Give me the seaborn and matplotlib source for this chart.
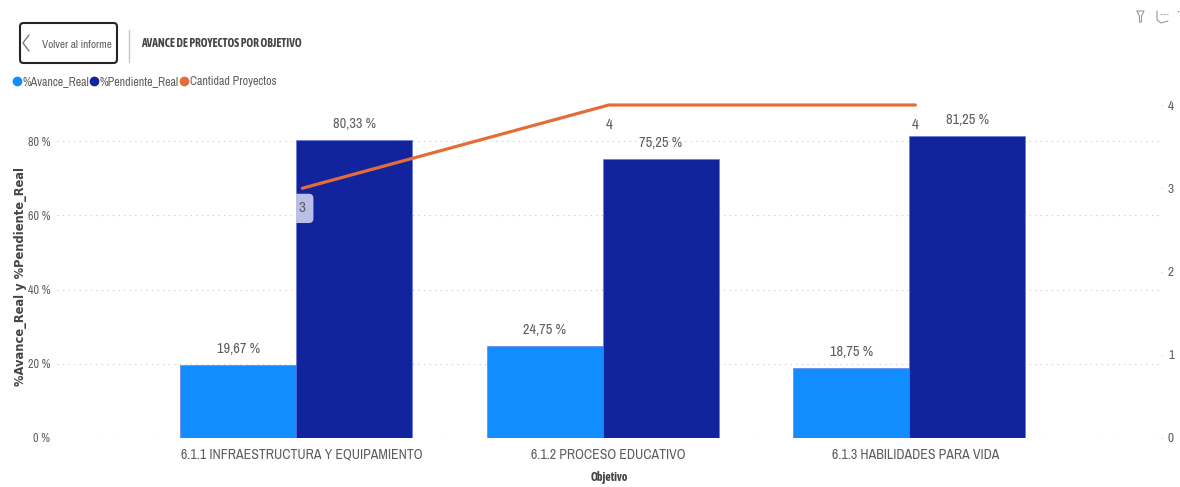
# ================================
# AVANCE DE PROYECTOS POR OBJETIVO
# ================================

import matplotlib
matplotlib.use("Agg")
import matplotlib.pyplot as plt
import numpy as np
import pandas as pd
import seaborn as sns
from matplotlib.lines import Line2D
from matplotlib.patches import FancyBboxPatch
from matplotlib.transforms import ScaledTranslation

# --------------------------------
# Data
# --------------------------------
objetivos = [
    "6.1.1 INFRAESTRUCTURA Y EQUIPAMIENTO",
    "6.1.2 PROCESO EDUCATIVO",
    "6.1.3 HABILIDADES PARA VIDA",
]
avance_real = [19.67, 24.75, 18.75]
pendiente_real = [80.33, 75.25, 81.25]
cantidad_proyectos = [3, 4, 4]
pct_ticks = [0, 20, 40, 60, 80]
count_ticks = [0, 1, 2, 3, 4]

# --------------------------------
# Settings
# --------------------------------
W, H = 1180, 487
BLUE = "#118DFF"
NAVY = "#12239E"
ORANGE = "#E66C37"
GRAY = "#605E5C"
NARROW = ["Archivo Narrow", "Roboto", "DejaVu Sans"]
NARROW_BOLD = ["Asap Condensed", "Roboto", "DejaVu Sans"]

sns.set_style("white")
plt.rcParams["font.family"] = NARROW

df = pd.DataFrame({
    "Objetivo": objetivos * 2,
    "serie": ["%Avance_Real"] * 3 + ["%Pendiente_Real"] * 3,
    "valor": avance_real + pendiente_real,
})

fig = plt.figure(figsize=(W / 100, H / 100), dpi=100)
ax = fig.add_axes([57 / W, 1 - 438 / H, (1161 - 57) / W, (438 - 95) / H])

# --------------------------------
# Bars
# --------------------------------
sns.barplot(
    data=df, x="Objetivo", y="valor", hue="serie",
    palette=[BLUE, NAVY], saturation=1, width=0.757, gap=0, legend=False,
    edgecolor="#5f73e0", linewidth=0.4, ax=ax,
)
ax.set_xlim(-0.7805, 2.8215)
ax.set_ylim(0, 343 / 3.7125)
ax.set_yticks(pct_ticks)
ax.set_yticklabels([f"{t} %" for t in pct_ticks])
ax.tick_params(axis="y", length=0, labelsize=8.6, labelcolor=GRAY, pad=5)
ax.tick_params(axis="x", length=0, labelsize=10, labelcolor=GRAY, pad=7)
ax.set_axisbelow(True)
ax.grid(axis="y", color="#C8C6C4", linestyle=(0, (1, 4)), linewidth=0.8)
sns.despine(ax=ax, left=True, bottom=True)

# category labels sit a little to the right of the bar pair
for tick_label in ax.get_xticklabels():
    tick_label.set_transform(
        tick_label.get_transform() + ScaledTranslation(6 / 100, 0, fig.dpi_scale_trans)
    )

for container, values in zip(ax.containers, [avance_real, pendiente_real]):
    ax.bar_label(
        container,
        labels=[f"{v:.2f} %".replace(".", ",") for v in values],
        padding=6.5, fontsize=10.3, color=GRAY,
    )

ax.set_xlabel("Objetivo", fontsize=8.6, color="#484644", labelpad=6.5,
              family=NARROW_BOLD, fontweight="bold")
ax.set_ylabel(
    "%Avance_Real y %Pendiente_Real", fontsize=8.3, color="#444444",
    family="DejaVu Sans", fontweight="bold",
)
ax.yaxis.set_label_coords((27 - 57) / (1161 - 57), (438 - 276) / 343)

# --------------------------------
# Line on secondary axis
# --------------------------------
ax2 = ax.twinx()
line_x = np.arange(len(objetivos)) + 0.02
sns.lineplot(
    x=line_x, y=cantidad_proyectos, color=ORANGE, linewidth=2.3,
    solid_capstyle="round", legend=False, ax=ax2,
)
ax2.set_ylim(0, 343 / 83.25)
ax2.set_yticks(count_ticks)
ax2.tick_params(axis="y", length=1, width=0.8, color="#C8C6C4",
                labelsize=9.5, labelcolor=GRAY, pad=4)
ax2.set_ylabel("")
ax2.grid(False)
sns.despine(ax=ax2, left=True, bottom=True, right=True)

first_bar = ax.containers[1][0]
for x, v in zip(line_x, cantidad_proyectos):
    label = ax2.annotate(
        str(v), xy=(x, v), xytext=(0, -14.5), textcoords="offset points",
        ha="center", va="center", fontsize=11, color=GRAY,
    )
    if v == 3:
        # highlighted label, cut by the left edge of the bar
        label.set_bbox(dict(boxstyle="round,pad=0.5,rounding_size=0.3",
                            facecolor="#B9BFE6", edgecolor="none"))
        label.get_bbox_patch().set_clip_path(first_bar)

# --------------------------------
# Legend
# --------------------------------
handles = [
    Line2D([], [], linestyle="none", marker="o", markersize=6, color=c, label=n)
    for c, n in zip([BLUE, NAVY, ORANGE],
                    ["%Avance_Real", "%Pendiente_Real", "Cantidad Proyectos"])
]
fig.legend(
    handles=handles, loc="center left", bbox_to_anchor=(9 / W, 1 - 81.5 / H),
    ncol=3, frameon=False, fontsize=8.6, labelcolor=GRAY, handletextpad=-0.2,
    columnspacing=-0.2, handlelength=1.3, borderaxespad=0, borderpad=0,
)

# --------------------------------
# Header: back button, title, icons
# --------------------------------
fig.add_artist(FancyBboxPatch(
    (20 / W, 1 - 63 / H), 97 / W, 40 / H, transform=fig.transFigure,
    boxstyle="round,pad=0,rounding_size=0.003", mutation_aspect=W / H,
    facecolor="white", edgecolor="#252423", linewidth=1.5,
))
fig.add_artist(Line2D(
    [29 / W, 23 / W, 29 / W], [1 - 35 / H, 1 - 43 / H, 1 - 51 / H],
    color="#7a7a7a", linewidth=1,
))
fig.text(42 / W, 1 - 44.5 / H, "Volver al informe", fontsize=8.1, color=GRAY, va="center")
fig.add_artist(Line2D([129 / W, 129 / W], [1 - 30 / H, 1 - 62 / H], color="#C8C6C4", linewidth=1))
fig.text(141 / W, 1 - 43.5 / H, "AVANCE DE PROYECTOS POR OBJETIVO", fontsize=8.3,
         color="#484644", va="center", family=NARROW_BOLD, fontweight="bold")

# filter and focus icons
fig.add_artist(Line2D(
    np.array([1137, 1144, 1141.5, 1141.5, 1139.5, 1139.5, 1137]) / W,
    1 - np.array([11, 11, 16, 22, 22, 16, 11]) / H, color="#9a9a9a", linewidth=0.8,
))
fig.add_artist(Line2D(
    np.array([1157, 1157, 1161, 1168]) / W, 1 - np.array([11, 20, 23, 21]) / H,
    color="#9a9a9a", linewidth=0.8,
))
fig.add_artist(Line2D(
    np.array([1160, 1168]) / W, 1 - np.array([14, 14]) / H,
    color="#b0b0b0", linewidth=0.8, linestyle=(0, (2, 1)),
))
fig.text(1178 / W, 1 - 14 / H, "\u00b7", fontsize=10, color="#7a7a7a", ha="center", va="center")

plt.savefig("out.png", dpi=100)
